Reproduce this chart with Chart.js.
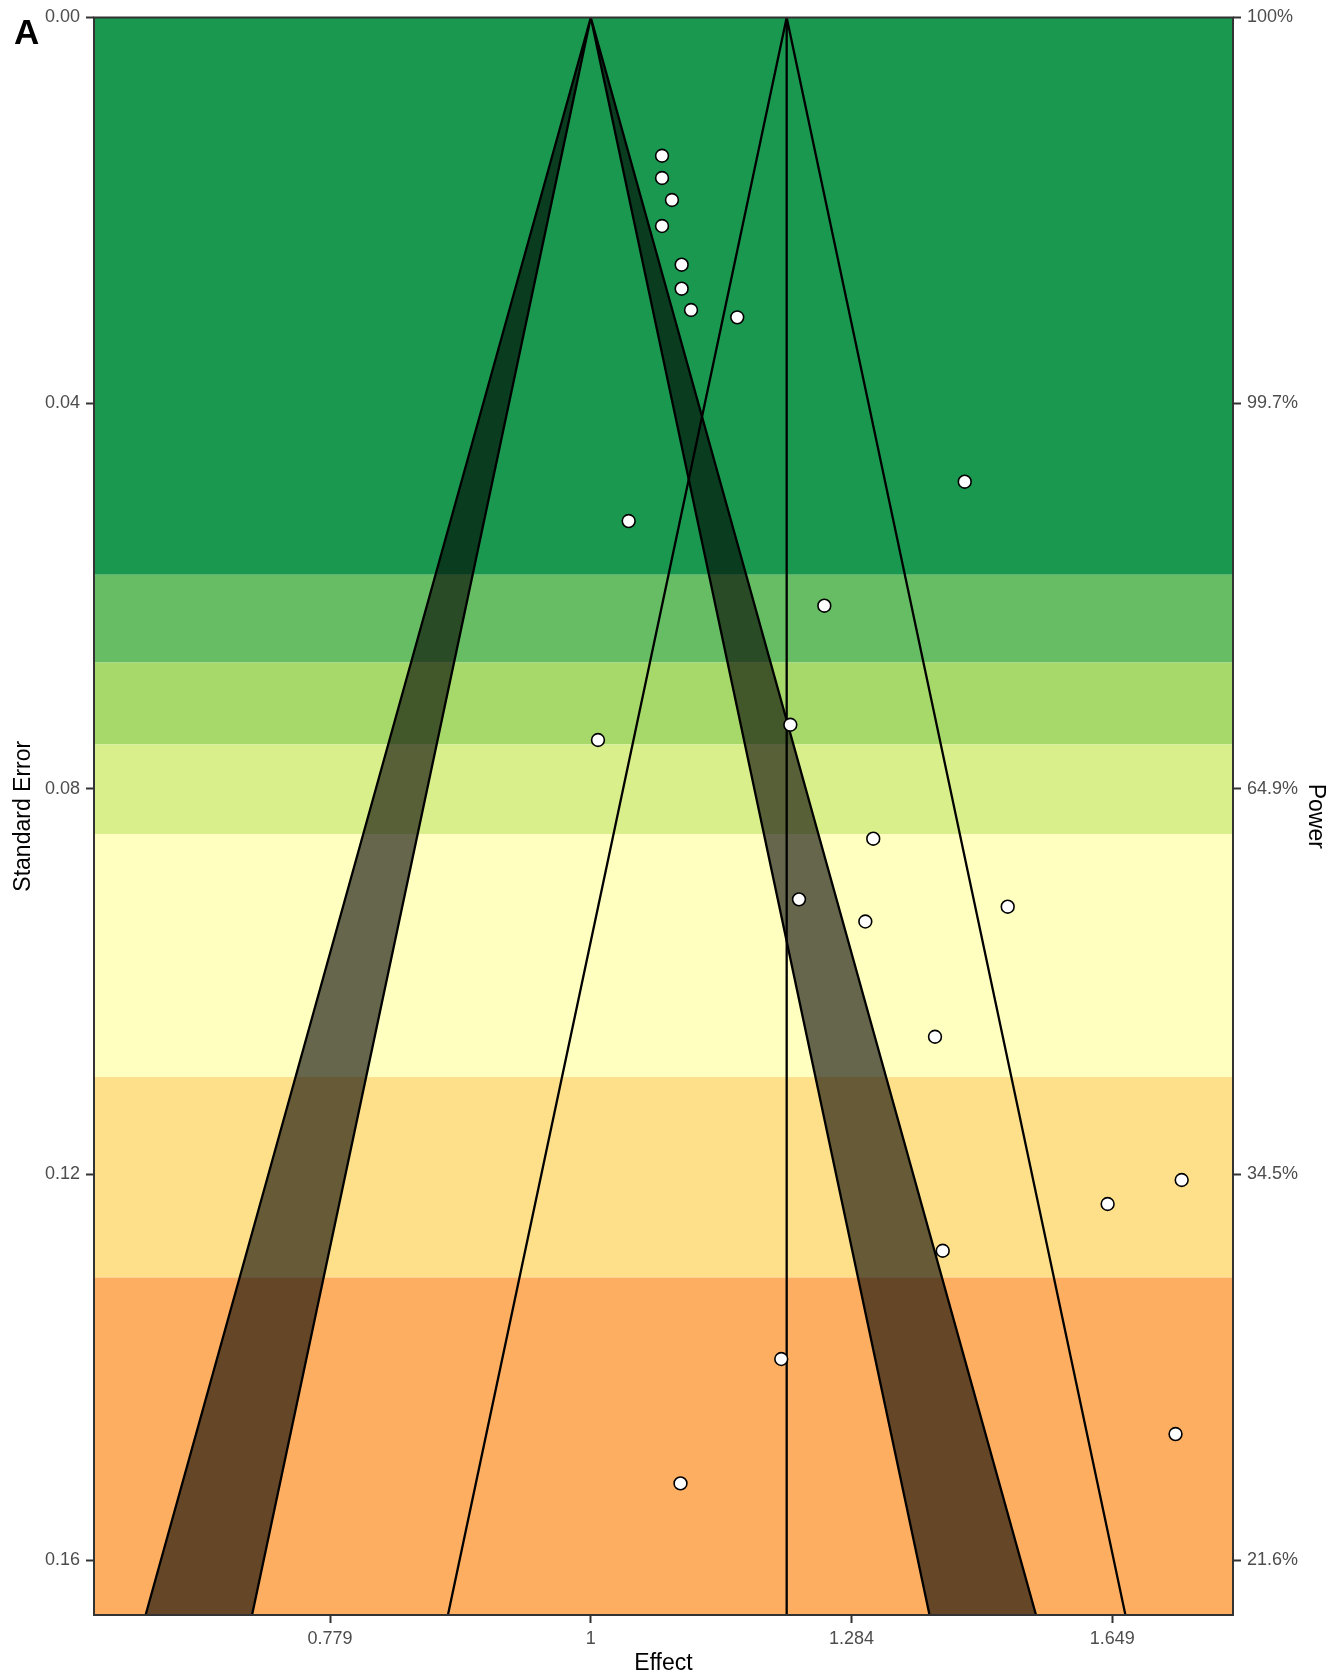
<!DOCTYPE html>
<html>
<head>
<meta charset="utf-8">
<title>Sunset funnel plot</title>
<script src="https://cdn.jsdelivr.net/npm/chart.js@4.4.1/dist/chart.umd.min.js"></script>
<style>
  html, body { margin: 0; padding: 0; background: #ffffff; }
  #wrap { position: relative; width: 1330px; height: 1680px; }
  #panel-tag {
    position: absolute; left: 14px; top: 14px;
    font: bold 35px/1 "Liberation Sans", Arial, sans-serif; color: #000;
  }
</style>
</head>
<body>
<div id="wrap">
  <canvas id="c" width="1330" height="1680"></canvas>
  <div id="panel-tag">A</div>
</div>
<script>
// ---- Study estimates (log effect) and their standard errors ----
const studyLogEffect = [0.0683, 0.0683, 0.0778, 0.0683, 0.0871, 0.0871, 0.0961, 0.1404,
                        0.3585, 0.0363, 0.2239, 0.1913, 0.0069, 0.2708, 0.1996, 0.2632,
                        0.3997, 0.3300, 0.5665, 0.4955, 0.3374, 0.1826, 0.5606, 0.0860];
const studySE       = [0.01434, 0.01665, 0.01893, 0.02163, 0.02564, 0.02813, 0.03034, 0.03110,
                       0.04815, 0.05223, 0.06101, 0.07336, 0.07494, 0.08518, 0.09147, 0.09377,
                       0.09223, 0.10572, 0.12058, 0.12307, 0.12792, 0.13915, 0.14693, 0.15205];

// ---- Pooled estimate and significance contours ----
const summaryLogEffect = 0.1878;
const nullLogEffect = 0;
const z95 = 1.96;
const z99 = 2.576;

// ---- Axis ranges and tick labels ----
const seMax = 0.1657;
const effectMin = -0.4763;
const effectMax = 0.6157;
const effectTicks = [-0.25, 0, 0.25, 0.5];
const effectTickLabels = ['0.779', '1', '1.284', '1.649'];
const seTicks = [0, 0.04, 0.08, 0.12, 0.16];
const seTickLabels = ['0.00', '0.04', '0.08', '0.12', '0.16'];
const powerTickLabels = ['100%', '99.7%', '64.9%', '34.5%', '21.6%'];

// ---- Power regions (standard-error limits and fills) ----
const powerBandEdges = [0, 0.0578, 0.0669, 0.0754, 0.0847, 0.1099, 0.1307, 0.1657];
const powerBandColors = ['#1A9850', '#66BD63', '#A6D96A', '#D9EF8B', '#FFFFBF', '#FEE08B', '#FDAE61'];

const FONT = '"Liberation Sans", Arial, sans-serif';
Chart.defaults.font.family = FONT;

function labelFor(values, labels) {
  return (v) => {
    const i = values.findIndex(t => Math.abs(t - v) < 1e-9);
    return i >= 0 ? labels[i] : '';
  };
}

// Coloured power regions behind the funnel
const powerBands = {
  id: 'powerBands',
  beforeDraw(chart) {
    const { ctx, chartArea: a, scales: { y } } = chart;
    ctx.save();
    ctx.beginPath();
    ctx.rect(a.left, a.top, a.right - a.left, a.bottom - a.top);
    ctx.clip();
    for (let i = 0; i < powerBandColors.length; i++) {
      const p0 = y.getPixelForValue(powerBandEdges[i]);
      const p1 = y.getPixelForValue(powerBandEdges[i + 1]);
      ctx.fillStyle = powerBandColors[i];
      ctx.fillRect(a.left, Math.min(p0, p1), a.right - a.left, Math.abs(p1 - p0));
    }
    ctx.restore();
  }
};

// Panel frame
const panelFrame = {
  id: 'panelFrame',
  afterDatasetsDraw(chart) {
    const { ctx, chartArea: a } = chart;
    ctx.save();
    ctx.strokeStyle = '#333333';
    ctx.lineWidth = 2;
    ctx.strokeRect(a.left, a.top, a.right - a.left, a.bottom - a.top);
    ctx.restore();
  }
};

// Significance band between the 95% and 99% contours, one side at a time
function sigBand(side) {
  return [
    { x: nullLogEffect + side * z99 * seMax, y: seMax },
    { x: nullLogEffect, y: 0 },
    { x: nullLogEffect + side * z95 * seMax, y: seMax }
  ];
}

const studyPoints = studyLogEffect.map((x, i) => ({ x, y: studySE[i] }));

const LINE_W = 2.3;

const datasets = [
  {
    label: 'Studies',
    data: studyPoints,
    showLine: false,
    pointRadius: 6.4,
    pointBackgroundColor: '#ffffff',
    pointBorderColor: '#000000',
    pointBorderWidth: 1.6,
    order: 0
  },
  {
    label: 'Pooled 95% contour',
    data: [
      { x: summaryLogEffect - z95 * seMax, y: seMax },
      { x: summaryLogEffect, y: 0 },
      { x: summaryLogEffect + z95 * seMax, y: seMax }
    ],
    borderColor: '#000000',
    borderWidth: LINE_W,
    pointRadius: 0,
    fill: false,
    order: 1
  },
  {
    label: 'Pooled estimate',
    data: [{ x: summaryLogEffect, y: 0 }, { x: summaryLogEffect, y: seMax }],
    borderColor: '#000000',
    borderWidth: LINE_W,
    pointRadius: 0,
    fill: false,
    order: 1
  },
  {
    label: 'Significance band (left)',
    data: sigBand(-1),
    borderColor: '#000000',
    borderWidth: LINE_W,
    pointRadius: 0,
    fill: 'shape',
    backgroundColor: 'rgba(0,0,0,0.6)',
    order: 2
  },
  {
    label: 'Significance band (right)',
    data: sigBand(1),
    borderColor: '#000000',
    borderWidth: LINE_W,
    pointRadius: 0,
    fill: 'shape',
    backgroundColor: 'rgba(0,0,0,0.6)',
    order: 2
  }
];

const tickGrid = {
  display: true,
  drawOnChartArea: false,
  drawTicks: true,
  tickLength: 8,
  tickColor: '#333333',
  tickWidth: 2
};

new Chart(document.getElementById('c'), {
  type: 'line',
  data: { datasets },
  plugins: [powerBands, panelFrame],
  options: {
    responsive: false,
    animation: false,
    events: [],
    layout: { padding: { top: 17.5, left: 0, right: 0, bottom: 0 } },
    elements: { line: { tension: 0, borderJoinStyle: 'miter' } },
    plugins: {
      legend: { display: false },
      tooltip: { enabled: false },
      title: { display: false }
    },
    scales: {
      x: {
        type: 'linear',
        position: 'bottom',
        min: effectMin,
        max: effectMax,
        afterBuildTicks: (s) => { s.ticks = effectTicks.map(v => ({ value: v })); },
        ticks: {
          callback: labelFor(effectTicks, effectTickLabels),
          font: { size: 18 },
          color: '#4D4D4D',
          padding: 5,
          maxRotation: 0,
          autoSkip: false
        },
        grid: tickGrid,
        border: { display: false },
        title: {
          display: true, text: 'Effect', color: '#000000',
          font: { size: 23 }, padding: { top: 0, bottom: 3 }
        },
        afterFit: (s) => { s.height = 65; }
      },
      y: {
        type: 'linear',
        position: 'left',
        reverse: true,
        min: 0,
        max: seMax,
        afterBuildTicks: (s) => { s.ticks = seTicks.map(v => ({ value: v })); },
        ticks: {
          callback: labelFor(seTicks, seTickLabels),
          font: { size: 18 },
          color: '#4D4D4D',
          padding: 6,
          autoSkip: false
        },
        grid: tickGrid,
        border: { display: false },
        title: {
          display: true, text: 'Standard Error', color: '#000000',
          font: { size: 23 }, padding: { top: 9.7, bottom: 0 }
        },
        afterFit: (s) => { s.width = 94; }
      },
      y2: {
        type: 'linear',
        position: 'right',
        reverse: true,
        min: 0,
        max: seMax,
        afterBuildTicks: (s) => { s.ticks = seTicks.map(v => ({ value: v })); },
        ticks: {
          callback: labelFor(seTicks, powerTickLabels),
          font: { size: 18 },
          color: '#4D4D4D',
          padding: 6,
          autoSkip: false
        },
        grid: tickGrid,
        border: { display: false },
        title: {
          display: true, text: 'Power', color: '#000000',
          font: { size: 23 }, padding: { top: 1, bottom: 0 }
        },
        afterFit: (s) => { s.width = 97; }
      }
    }
  }
});
</script>
</body>
</html>
